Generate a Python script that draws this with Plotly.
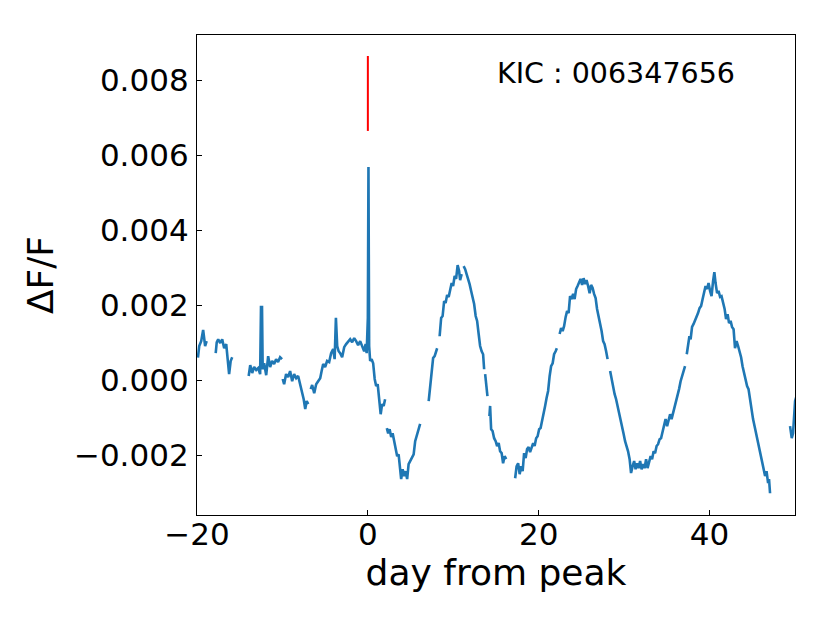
import plotly.graph_objects as go

# Light curve of KIC 006347656 (day from peak, delta F / F); None marks data gaps
days = [
    -19.89, -19.74, -19.51, -19.28, -19.05, -18.87, None,
    -17.81, -17.69, -17.52, -17.28, -17.05, -16.82, -16.58, -16.41, -16.24, -16.06, -15.88, None,
    -13.95, -13.77, -13.54, -13.31, -13.07, -12.84, -12.61, -12.51, -12.39, -12.31, -12.14, -11.90,
    -11.67, -11.44, -11.21, -10.97, -10.74, -10.51, -10.27, -10.04, None,
    -9.97, -9.80, -9.57, -9.33, -9.10, -8.86, -8.63, -8.39, -8.16, -7.93, -7.69, -7.51, -7.33, -7.16, -6.98, None,
    -6.69, -6.52, -6.28, -6.05, -5.82, -5.58, -5.41, -5.23, -5.00, -4.77, -4.53, -4.30, -4.06, -3.89,
    -3.74, -3.59, -3.42, -3.24, -3.01, -2.77, -2.54, -2.30, -2.07, -1.84, -1.60, -1.37, -1.14, -0.90,
    -0.67, -0.43, -0.26, -0.14, 0.00, 0.07, 0.15, 0.27, 0.44, 0.62, 0.80, 0.97, 1.15, 1.32, 1.50, 1.67,
    1.85, 2.02, None,
    2.22, 2.38, 2.55, 2.73, 2.90, 3.08, 3.25, 3.43, 3.60, 3.78, 3.90, 4.07, 4.25, 4.42, 4.60, 4.77,
    4.95, 5.18, 5.36, 5.54, 5.71, 5.89, 6.12, None,
    7.12, 7.29, 7.47, 7.64, 7.82, 8.00, 8.11, None,
    8.40, 8.58, 8.75, 8.93, 9.10, 9.28, 9.46, 9.63, 9.81, 9.98, 10.16, 10.33, 10.51, 10.68, 10.80, 10.98, None,
    11.21, 11.39, 11.56, 11.74, 11.91, 12.09, 12.26, 12.44, 12.62, 12.79, 12.97, 13.14, 13.32, 13.49, 13.61, None,
    13.73, 13.87, 14.00, None,
    14.23, 14.31, 14.43, 14.60, 14.78, 14.96, 15.13, 15.31, 15.48, 15.66, 15.83, 16.01, 16.19, None,
    17.24, 17.41, 17.59, 17.77, 17.94, 18.12, 18.29, 18.47, 18.64, 18.82, 18.99, 19.17, 19.35, 19.52,
    19.70, 19.87, 20.05, 20.22, 20.40, 20.57, 20.75, 20.92, 21.10, 21.28, 21.45, 21.63, 21.80, 21.98, 22.12, None,
    22.45, 22.62, 22.80, 22.97, 23.15, 23.32, 23.50, 23.67, 23.85, 24.03, 24.20, 24.38, 24.55, 24.73,
    24.90, 25.08, 25.25, 25.43, 25.60, 25.78, 25.96, 26.13, 26.31, 26.48, 26.66, 26.83, 27.01, 27.19,
    27.36, 27.54, 27.71, 27.89, 28.06, None,
    28.36, 28.53, 28.71, 28.88, 29.06, 29.24, 29.41, 29.59, 29.76, 29.94, 30.11, 30.29, 30.46, 30.64,
    30.81, 30.99, 31.17, 31.34, 31.52, 31.69, 31.87, 32.04, 32.22, 32.39, 32.57, 32.74, 32.92, 33.10,
    33.27, 33.45, 33.62, 33.80, 33.97, 34.15, 34.32, 34.50, 34.68, 34.85, 35.03, 35.20, 35.38, 35.55,
    35.73, 35.90, 36.08, 36.25, 36.43, 36.61, 36.78, 36.96, 37.13, None,
    37.33, 37.48, 37.64, 37.78, 37.95, 38.13, 38.30, 38.48, 38.65, 38.83, 39.01, 39.18, 39.36, 39.53,
    39.71, 39.88, 40.06, 40.23, 40.41, 40.56, 40.70, 40.88, 41.05, 41.23, 41.40, 41.58, 41.76, 41.93,
    42.11, 42.28, 42.46, 42.63, 42.81, 42.98, 43.16, 43.34, 43.51, 43.69, 43.86, 44.04, 44.21, 44.39,
    44.56, 44.74, 44.92, 45.09, 45.27, 45.44, 45.62, 45.79, 45.97, 46.14, 46.32, 46.50, 46.67, 46.85,
    46.96, 47.08, None,
    49.42, 49.62, 49.77, 49.89, 50.01, 50.18,
]

flux = [
    0.00060, 0.00091, 0.00104, 0.00134, 0.00091, 0.00104, None,
    0.00072, 0.00101, 0.00109, 0.00099, 0.00109, 0.00085, 0.00096, 0.00064, 0.00016, 0.00051, 0.00061, None,
    0.00011, 0.00040, 0.00019, 0.00035, 0.00027, 0.00032, 0.00016, 0.00195, 0.00195, 0.00029, 0.00045, 0.00013,
    0.00064, 0.00035, 0.00051, 0.00043, 0.00056, 0.00048, 0.00061, 0.00056, None,
    0.00003, -0.00011, 0.00016, 0.00008, 0.00024, -0.00003, 0.00016, 0.00005, 0.00011, -0.00011, -0.00029,
    -0.00051, -0.00077, -0.00056, -0.00064, None,
    -0.00024, -0.00013, -0.00035, -0.00011, -0.00003, 0.00005, 0.00024, 0.00043, 0.00035, 0.00051, 0.00048,
    0.00072, 0.00083, 0.00056,
    0.00166, 0.00091, 0.00077, 0.00072, 0.00061, 0.00088, 0.00096, 0.00104, 0.00109, 0.00101, 0.00112,
    0.00104, 0.00093, 0.00104,
    0.00088, 0.00077, 0.00096, 0.00072, 0.00166, 0.00569, 0.00091, 0.00051, 0.00056, 0.00045, 0.00003,
    -0.00016, -0.00011, -0.00056, -0.00091, -0.00064,
    -0.00069, -0.00051, None,
    -0.00128, -0.00142, -0.00131, -0.00152, -0.00142, -0.00163, -0.00184, -0.00203, -0.00198, -0.00230,
    -0.00264, -0.00238, -0.00256, -0.00243, -0.00264, -0.00224,
    -0.00216, -0.00203, -0.00198, -0.00163, -0.00150, -0.00131, -0.00117, None,
    -0.00056, -0.00011, 0.00037, 0.00059, 0.00064, 0.00077, 0.00085, None,
    0.00117, 0.00166, 0.00171, 0.00211, 0.00206, 0.00227, 0.00222, 0.00238, 0.00259, 0.00251, 0.00278,
    0.00270, 0.00307, 0.00291, 0.00267, 0.00283, None,
    0.00304, 0.00296, 0.00283, 0.00270, 0.00256, 0.00238, 0.00222, 0.00203, 0.00171, 0.00158, 0.00123,
    0.00091, 0.00077, 0.00069, 0.00029, None,
    0.00016, -0.00016, -0.00043, None,
    -0.00096, -0.00069, -0.00131, -0.00136, -0.00155, -0.00163, -0.00176, -0.00168, -0.00190, -0.00195,
    -0.00222, -0.00203, -0.00211, None,
    -0.00262, -0.00230, -0.00222, -0.00251, -0.00230, -0.00243, -0.00195, -0.00208, -0.00184, -0.00179,
    -0.00192, -0.00182, -0.00168, -0.00176,
    -0.00155, -0.00150, -0.00131, -0.00128, -0.00104, -0.00091, -0.00069, -0.00048, -0.00029, 0.00011,
    0.00037, 0.00045, 0.00069, 0.00077, 0.00085, None,
    0.00123, 0.00139, 0.00131, 0.00144, 0.00168, 0.00184, 0.00179, 0.00224, 0.00216, 0.00230, 0.00216,
    0.00243, 0.00251, 0.00264,
    0.00270, 0.00254, 0.00272, 0.00256, 0.00267, 0.00251, 0.00232, 0.00254, 0.00246, 0.00230, 0.00219,
    0.00190, 0.00171, 0.00158,
    0.00131, 0.00104, 0.00096, 0.00077, 0.00056, None,
    0.00024, 0.00003, -0.00016, -0.00037, -0.00051, -0.00069, -0.00083, -0.00104, -0.00123, -0.00144,
    -0.00163, -0.00174, -0.00190, -0.00211,
    -0.00248, -0.00230, -0.00216, -0.00238, -0.00222, -0.00235, -0.00216, -0.00238, -0.00224, -0.00235,
    -0.00211, -0.00235, -0.00216, -0.00203,
    -0.00211, -0.00190, -0.00195, -0.00176, -0.00171, -0.00158, -0.00155, -0.00136, -0.00123, -0.00104,
    -0.00123, -0.00109, -0.00091, -0.00104,
    -0.00088, -0.00077, -0.00056, -0.00043, -0.00024, -0.00003, 0.00011, 0.00029, 0.00037, None,
    0.00069, 0.00091, 0.00117, 0.00109, 0.00142, 0.00150, 0.00158, 0.00171, 0.00179, 0.00192, 0.00198,
    0.00216, 0.00238, 0.00251,
    0.00243, 0.00259, 0.00238, 0.00224, 0.00264, 0.00288, 0.00259, 0.00232, 0.00238, 0.00222, 0.00224,
    0.00206, 0.00190, 0.00163,
    0.00176, 0.00152, 0.00158, 0.00142, 0.00136, 0.00085, 0.00104, 0.00091, 0.00077, 0.00061, 0.00037,
    0.00019, 0.00003, -0.00016,
    -0.00024, -0.00056, -0.00083, -0.00104, -0.00123, -0.00142, -0.00163, -0.00184, -0.00203, -0.00222,
    -0.00243, -0.00256, -0.00243, -0.00275,
    -0.00264, -0.00302, None,
    -0.00123, -0.00155, -0.00142, -0.00109, -0.00056, -0.00043,
]

# Peak marker (red vertical segment above the flare)
peak_day = [0.0, 0.0]
peak_flux = [0.00865, 0.00665]

x_tickvals = [-20, 0, 20, 40]
x_ticktext = ["\u221220", "0", "20", "40"]
y_tickvals = [-0.002, 0.000, 0.002, 0.004, 0.006, 0.008]
y_ticktext = ["\u22120.002", "0.000", "0.002", "0.004", "0.006", "0.008"]

label_text = "KIC : 006347656"

FONT = "DejaVu Sans"

fig = go.Figure()
fig.add_trace(go.Scatter(
    x=days, y=flux, mode="lines",
    line=dict(color="#1f77b4", width=2.6),
    connectgaps=False, showlegend=False, hoverinfo="skip",
))
fig.add_trace(go.Scatter(
    x=peak_day, y=peak_flux, mode="lines",
    line=dict(color="red", width=2),
    showlegend=False, hoverinfo="skip",
))

fig.add_annotation(
    x=0.70, y=0.92, xref="paper", yref="paper",
    text=label_text, showarrow=False,
    font=dict(family=FONT, size=28.5, color="black"),
    xanchor="center", yanchor="middle",
)

axis_common = dict(
    showgrid=False, zeroline=False,
    showline=True, linecolor="black", linewidth=1.3, mirror=True,
    ticks="inside", ticklen=5, tickwidth=1.3, tickcolor="black",
    tickfont=dict(family=FONT, size=31, color="black"),
)

fig.update_xaxes(
    range=[-20, 50], tickvals=x_tickvals, ticktext=x_ticktext,
    title=dict(text="day from peak", font=dict(family=FONT, size=36, color="black"), standoff=0),
    ticklabelstandoff=-8,
    **axis_common,
)
fig.update_yaxes(
    range=[-0.0036, 0.00921], tickvals=y_tickvals, ticktext=y_ticktext,
    title=dict(text="\u0394F/F", font=dict(family=FONT, size=36, color="black"), standoff=9),
    ticklabelstandoff=1,
    **axis_common,
)

fig.update_layout(
    width=830, height=623,
    margin=dict(l=189, r=43, t=27, b=116),
    paper_bgcolor="white", plot_bgcolor="white",
    font=dict(family=FONT, color="black"),
)

fig.write_html("out.html")
